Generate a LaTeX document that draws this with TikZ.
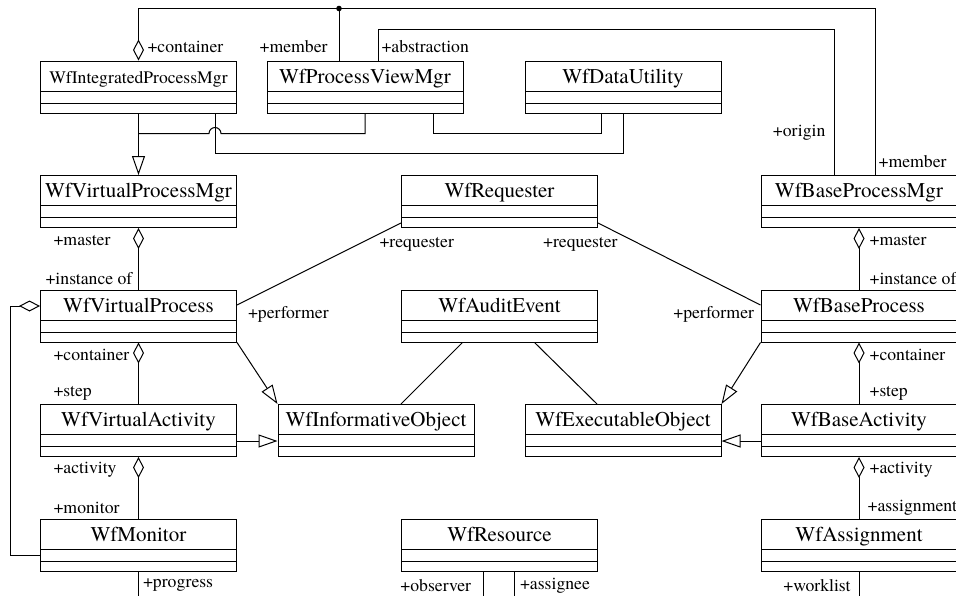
\documentclass[tikz,border=0pt]{standalone}
\usepackage{fontspec}
\setmainfont{texgyretermes-regular.otf}
\usepackage{tikz}
\usetikzlibrary{arrows.meta, positioning, calc}
\tikzset{
    uml_class/.style={rectangle, draw, line width=0.5pt, minimum width=98pt, minimum height=26pt, inner sep=0pt, text height=11pt, text depth=15pt, font=\fontsize{10.5}{12}\selectfont,
        path picture={
            \draw[line width=0.5pt] ([yshift=-15pt]path picture bounding box.north west) -- ([yshift=-15pt]path picture bounding box.north east);
            \draw[line width=0.5pt] ([yshift=5pt]path picture bounding box.south west) -- ([yshift=5pt]path picture bounding box.south east);
        }},
    role/.style={font=\fontsize{8.85}{10}\selectfont, inner sep=0pt},
    link/.style={line width=0.5pt},
    aggr/.style={link, {Diamond[open, length=10.5pt, width=5.5pt]}-},
    gen/.style={link, -{Triangle[open, length=9.5pt, width=6.5pt]}},
    junction/.style={circle, fill, inner sep=0pt, minimum size=2.8pt}
}
\begin{document}
\begin{tikzpicture}[x=0.5pt, y=-0.5pt, node distance=30.75pt and 20pt]
\useasboundingbox (0,0) rectangle (956,595);

% Top row
\node (ipm) [uml_class, font=\fontsize{8.8}{10}\selectfont] at (138.5,87) {WfIntegratedProcessMgr};
\node (pvm) [uml_class, right=14.75pt of ipm] {WfProcessViewMgr};
\node (du) [uml_class, right=30.5pt of pvm] {WfDataUtility};

% Left column
\node (vpm) [uml_class, below=of ipm] {WfVirtualProcessMgr};
\node (vp) [uml_class, below=of vpm] {WfVirtualProcess};
\node (va) [uml_class, below=of vp] {WfVirtualActivity};
\node (mon) [uml_class, below=of va] {WfMonitor};

% Middle and right
\node (io) [uml_class, right=20.25pt of va] {WfInformativeObject};
\node (eo) [uml_class, right=25pt of io] {WfExecutableObject};
\node (ba) [uml_class, right=19.5pt of eo] {WfBaseActivity};
\node (bp) [uml_class, above=of ba] {WfBaseProcess};
\node (bpm) [uml_class, above=of bp] {WfBaseProcessMgr};
\node (asg) [uml_class, below=of ba] {WfAssignment};
\coordinate (mid) at ($(io.north)!0.5!(eo.north)$);
\coordinate (midb) at ($(io.south)!0.5!(eo.south)$);
\node (ae) [uml_class, above=of mid] {WfAuditEvent};
\node (req) [uml_class, above=of ae] {WfRequester};
\node (res) [uml_class, below=of midb] {WfResource};

% Top bus
\draw[aggr] (ipm.north)
    node[role, anchor=west, xshift=4.25pt, yshift=7pt] (lcont) {+container}
    -- ++(0,-52) -| ([xshift=8pt]bpm.north)
    node[role, at end, anchor=west, xshift=1.5pt, yshift=6.5pt] (lmemb) {+member};
\draw[link] ([xshift=-13pt]pvm.north) -- ++(0,-52) node[junction] (jn) {}
    node[role, at start, anchor=east, xshift=-5.5pt, yshift=7pt] (lmem) {+member};
\draw[link] ([xshift=6.5pt]pvm.north)
    node[role, anchor=west, xshift=1.5pt, yshift=7pt] (labs) {+abstraction}
    -- ++(0,-31) -| ([xshift=-12.5pt]bpm.north)
    node[role, at end, anchor=east, xshift=-4pt, yshift=21pt] (lorig) {+origin};

% Generalization with hop
\draw[gen] (ipm.south) -- (vpm.north);
\coordinate (hop) at ($(ipm.south)+(76.5,20)$);
\draw[link] (pvm.south) |- ($(hop)+(6,0)$) arc[start angle=0, end angle=180, radius=3pt] -- ($(ipm.south)+(0,20)$);
\draw[link] ([xshift=34pt]pvm.south) -- ++(0,20) -| ([xshift=-11pt]du.south);
\draw[link] ([xshift=38.25pt]ipm.south) -- ++(0,40) -| (du.south);

% Left aggregations
\draw[aggr] (vpm.south) -- (vp.north)
    node[role, at start, anchor=west, xshift=-42.75pt, yshift=-6pt] (lmast) {+master}
    node[role, at end, anchor=west, xshift=-46.75pt, yshift=5.5pt] (linst) {+instance of};
\draw[aggr] (vp.south) -- (va.north)
    node[role, at start, anchor=west, xshift=-42.75pt, yshift=-6pt] (lcon2) {+container}
    node[role, at end, anchor=west, xshift=-42.75pt, yshift=5.5pt] (lstep) {+step};
\draw[aggr] (va.south) -- (mon.north)
    node[role, at start, anchor=west, xshift=-42.75pt, yshift=-6.5pt] (lact) {+activity}
    node[role, at end, anchor=west, xshift=-42.75pt, yshift=5.5pt] (lmon) {+monitor};
\draw[aggr] ([yshift=5pt]vp.west) -- ++(-30,0) |- ([yshift=-5pt]mon.west);
\draw[link] (mon.south) -- ++(0,28)
    node[role, at start, anchor=west, xshift=2pt, yshift=-7pt] (lprog) {+progress};

% Right aggregations
\draw[aggr] (bpm.south) -- (bp.north)
    node[role, at start, anchor=west, xshift=5pt, yshift=-6pt] (rmast) {+master}
    node[role, at end, anchor=west, xshift=5pt, yshift=5.5pt] (rinst) {+instance of};
\draw[aggr] (bp.south) -- (ba.north)
    node[role, at start, anchor=west, xshift=5pt, yshift=-6pt] (rcont) {+container}
    node[role, at end, anchor=west, xshift=5pt, yshift=5.5pt] (rstep) {+step};
\draw[aggr] (ba.south) -- (asg.north)
    node[role, at start, anchor=west, xshift=5pt, yshift=-6.5pt] (ract) {+activity}
    node[role, at end, anchor=west, xshift=4pt, yshift=5.5pt] (rasg) {+assignment};
\draw[link] (asg.south) -- ++(0,28)
    node[role, at start, anchor=east, xshift=-4pt, yshift=-7pt] (rwork) {+worklist};

% Requester
\draw[link] ([yshift=2.5pt]req.south west) -- ([yshift=5.5pt]vp.east)
    node[role, at start, anchor=west, xshift=-11pt, yshift=-10.5pt] (lreq) {+requester}
    node[role, at end, anchor=west, xshift=5.25pt, yshift=-4.5pt] (lperf) {+performer};
\draw[link] ([yshift=2.5pt]req.south east) -- ([yshift=5.5pt]bp.west)
    node[role, at start, anchor=east, xshift=10pt, yshift=-10.5pt] (rreq) {+requester}
    node[role, at end, anchor=east, xshift=-3pt, yshift=-4.5pt] (rperf) {+performer};

% Informative / executable objects
\draw[gen] (vp.south east) -- (io.north west);
\draw[gen] ([yshift=-5.25pt]va.east) -- ([yshift=-5.25pt]io.west);
\draw[gen] (bp.south west) -- (eo.north east);
\draw[gen] ([yshift=-5.25pt]ba.west) -- ([yshift=-5.25pt]eo.east);
\draw[link] ([xshift=-18.5pt]ae.south) -- ([xshift=12.5pt]io.north);
\draw[link] ([xshift=17.5pt]ae.south) -- ([xshift=-13pt]eo.north);

% Resource
\draw[link] ([xshift=-8pt]res.south) -- ++(0,28)
    node[role, at start, anchor=east, xshift=-6pt, yshift=-7pt] (lobs) {+observer};
\draw[link] ([xshift=7.5pt]res.south) -- ++(0,28)
    node[role, at start, anchor=west, xshift=2.5pt, yshift=-7pt] (lasg) {+assignee};

\end{tikzpicture}
\end{document}
